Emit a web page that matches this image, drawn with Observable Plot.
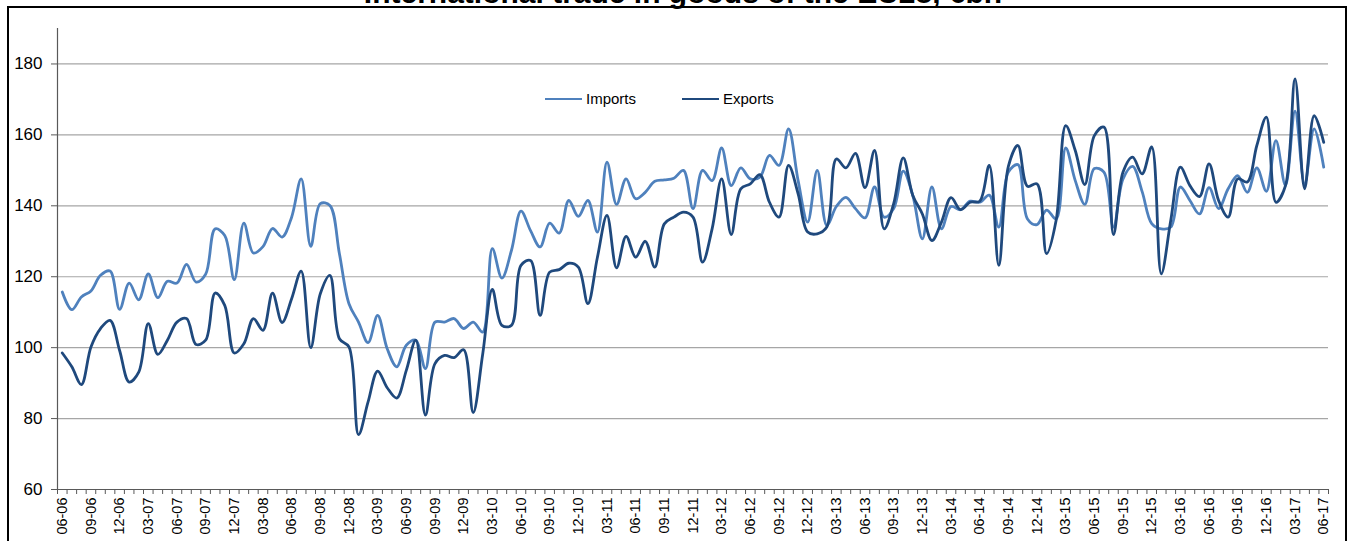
<!DOCTYPE html>
<html>
<head>
<meta charset="utf-8">
<script src="https://cdn.jsdelivr.net/npm/d3@7"></script>
<script src="https://cdn.jsdelivr.net/npm/@observablehq/plot@0.6"></script>
<style>
  html, body { margin: 0; padding: 0; background: #fff; overflow: hidden; }
  #wrap { position: relative; width: 1354px; height: 541px; font-family: "Liberation Sans", Arial, sans-serif; }
  #frame { position: absolute; left: 7px; top: 6px; width: 1340px; height: 600px; border: 2px solid #000; box-sizing: border-box; }
  #title { position: absolute; left: 0; width: 1366px; top: -22px; text-align: center; font-weight: bold; font-size: 30px; line-height: 30px; color: #000; }
  #chart { position: absolute; left: 0; top: 0; }
  .leg { position: absolute; top: 90px; font-size: 15px; color: #000; line-height: 18px; }
  .leg span.sw { position: absolute; top: 8px; width: 37px; height: 0; border-top: 2.5px solid; }
</style>
</head>
<body>
<div id="wrap">
  <div id="frame"></div>
  <div id="title">International trade in goods of the EU28, €bn</div>
  <div id="chart"></div>
  <div id="legend"></div>
</div>
<script>
// Monthly values, June 2006 .. June 2017
const imports = [
  115.7, 110.7, 114.3, 116.0, 120.4, 121.6, 110.8, 118.2, 113.5, 120.8, 114.1, 118.7,
  118.2, 123.5, 118.5, 120.7, 133.5, 131.6, 119.2, 135.1, 126.7, 128.5, 133.6, 131.2,
  136.8, 147.6, 128.6, 140.6, 140.1, 126.5, 112.4, 107.2, 101.4, 109.1, 99.7, 94.6,
  100.7, 102.1, 94.1, 107.2, 107.2, 108.2, 105.4, 107.2, 104.4, 127.9, 119.6, 127.4,
  138.5, 133.0, 128.4, 135.1, 132.3, 141.5, 137.0, 141.5, 132.6, 152.3, 140.4, 147.6,
  142.0, 143.8, 146.9, 147.3, 147.8, 150.0, 139.2, 150.0, 147.1, 156.3, 145.7, 150.7,
  147.6, 148.1, 154.2, 151.4, 161.7, 147.1, 135.4, 150.0, 134.5, 139.8, 142.4, 139.2,
  136.6, 145.3, 136.8, 139.2, 149.8, 142.9, 130.7, 145.3, 133.5, 139.8, 138.9, 141.3,
  141.0, 143.0, 134.0, 149.5, 151.6, 136.3, 134.7, 138.8, 136.3, 156.3, 147.1, 140.4,
  150.5, 149.5, 134.0, 147.6, 151.1, 144.0, 135.0, 133.5, 134.0, 145.3, 141.5, 137.7,
  145.1, 139.2, 144.8, 148.5, 143.8, 150.7, 144.1, 158.4, 145.7, 166.7, 146.2, 161.7,
  150.9
];
const exports_ = [
  98.5, 94.6, 89.6, 100.2, 105.4, 107.7, 99.2, 90.3, 93.1, 106.8, 98.1, 102.1,
  107.2, 108.2, 100.9, 102.1, 115.4, 111.9, 98.5, 101.1, 108.2, 104.9, 115.4, 107.1,
  113.8, 121.6, 100.0, 115.2, 120.4, 102.5, 100.2, 75.5, 84.7, 93.4, 88.7, 85.8,
  93.6, 102.1, 81.0, 95.5, 97.8, 97.2, 99.4, 81.7, 98.3, 116.4, 106.3, 106.3,
  123.2, 124.6, 109.1, 121.3, 122.0, 123.8, 122.7, 112.4, 125.5, 137.3, 122.5, 131.4,
  125.5, 130.0, 122.7, 134.9, 136.8, 138.2, 136.8, 124.1, 133.5, 147.6, 131.9, 144.8,
  146.2, 148.8, 141.0, 136.8, 151.4, 143.4, 132.6, 132.1, 134.0, 153.2, 150.7, 154.8,
  145.1, 155.6, 133.5, 140.6, 153.5, 142.9, 137.7, 130.2, 135.4, 142.3, 138.9, 141.0,
  141.3, 151.4, 123.2, 151.1, 157.0, 145.5, 146.2, 126.5, 135.9, 162.6, 155.6, 146.0,
  159.8, 162.2, 131.9, 149.5, 153.7, 149.0, 156.6, 120.8, 136.0, 150.9, 145.7, 142.6,
  151.8, 141.5, 136.8, 147.6, 146.7, 157.0, 165.0, 141.0, 145.7, 175.8, 144.8, 165.4,
  157.9
];
// Quarterly tick labels (every 3rd month)
const tickLabels = [
  "06-06","09-06","12-06","03-07","06-07","09-07","12-07","03-08","06-08","09-08",
  "12-08","03-09","06-09","09-09","12-09","03-10","06-10","09-10","12-10","03-11",
  "06-11","09-11","12-11","03-12","06-12","09-12","12-12","03-13","06-13","09-13",
  "12-13","03-14","06-14","09-14","12-14","03-15","06-15","09-15","12-15","03-16",
  "06-16","09-16","12-16","03-17","06-17"
];
const yTicks = [60, 80, 100, 120, 140, 160, 180];
const seriesNames = ["Imports", "Exports"];
const seriesColors = ["#4f81bd", "#1f497d"];

const n = imports.length;
const idx = d3.range(n);
const data = idx.map(i => ({i, imports: imports[i], exports: exports_[i]}));
const boundaries = d3.range(n + 1).map(k => k - 0.5);
const labelPos = tickLabels.map((_, k) => k * 3);

const axisGray = "#595959";
const plot = Plot.plot({
  width: 1354,
  height: 541,
  marginLeft: 57,
  marginRight: 26,
  marginTop: 28,
  marginBottom: 52,
  style: {fontFamily: "'Liberation Sans', Arial, sans-serif", color: "#000", background: "transparent"},
  x: {type: "linear", domain: [-0.5, n - 0.5]},
  y: {domain: [60, 190]},
  marks: [
    Plot.ruleY(yTicks.filter(v => v > 60), {stroke: "#a6a6a6", strokeWidth: 1.2}),
    Plot.ruleY([60], {stroke: axisGray, strokeWidth: 1.2}),
    Plot.ruleX([-0.5], {stroke: axisGray, strokeWidth: 1.2}),
    Plot.axisY({ticks: yTicks, tickSize: 6, tickPadding: 9, fontSize: 17, label: null, stroke: axisGray, fill: "#000"}),
    Plot.axisX({ticks: boundaries, tickSize: 5, tickFormat: () => "", label: null, stroke: axisGray}),
    Plot.axisX({ticks: labelPos, tickSize: 0, tickPadding: 8, tickRotate: -90, textAnchor: "end",
      tickFormat: v => tickLabels[Math.round(v / 3)], fontSize: 14.5, label: null, fill: "#000"}),
    Plot.line(data, {x: "i", y: "imports", stroke: seriesColors[0], strokeWidth: 2.8, curve: "catmull-rom"}),
    Plot.line(data, {x: "i", y: "exports", stroke: seriesColors[1], strokeWidth: 2.8, curve: "catmull-rom"})
  ]
});
document.getElementById("chart").appendChild(plot);

// Legend
const legend = document.getElementById("legend");
const legPos = [545, 682];
seriesNames.forEach((name, k) => {
  const d = document.createElement("div");
  d.className = "leg";
  d.style.left = legPos[k] + "px";
  d.innerHTML = `<span class="sw" style="left:0;border-color:${seriesColors[k]}"></span><span style="padding-left:41px">${name}</span>`;
  legend.appendChild(d);
});
</script>
</body>
</html>
